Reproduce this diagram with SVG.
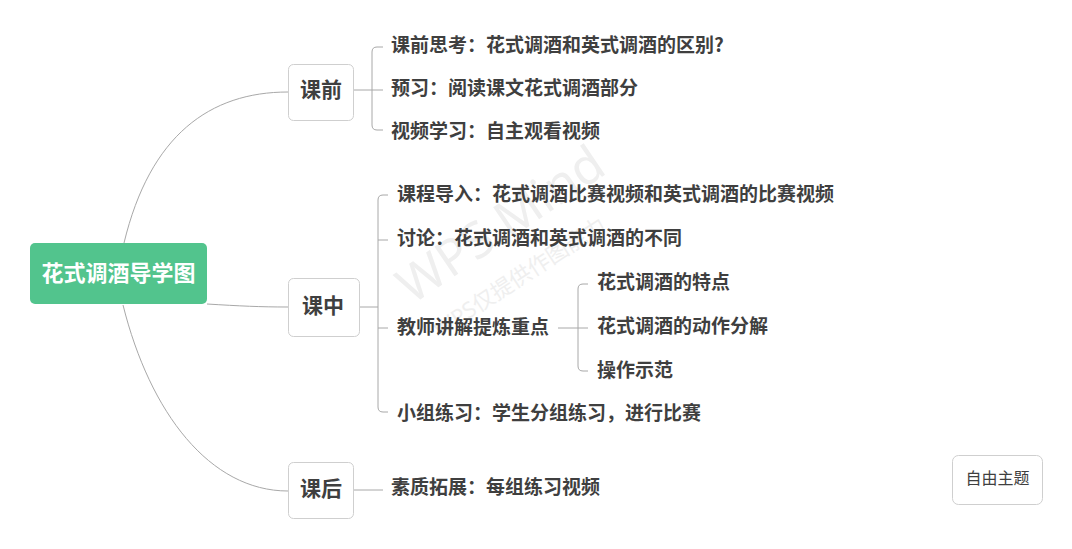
<svg xmlns="http://www.w3.org/2000/svg" width="1072" height="549" viewBox="0 0 1072 549">
<style>
.t{font-family:"Noto Sans CJK SC","Microsoft YaHei",sans-serif;fill:#3f3f3f;dominant-baseline:central}
.b{font-weight:bold;font-size:19px}
.main{font-weight:bold;font-size:21px;text-anchor:middle}
.box{fill:#fff;stroke:#cfcfcf;stroke-width:1}
.ln{fill:none;stroke:#a8a8a8;stroke-width:1}
.wm{font-family:"Noto Sans","Noto Sans CJK SC",sans-serif;fill:#efefef}
</style>
<rect width="1072" height="549" fill="#fff"/>
<g id="watermark">
<text class="wm" x="0" y="0" font-size="50" transform="translate(412,305) rotate(-34)">WPS Mind</text>
<text class="wm" x="0" y="0" font-size="22" transform="translate(440,338) rotate(-33)">WPS仅提供作图能力</text>
</g>
<g id="connectors">
<path class="ln" d="M124,243 C150,135 210,92 288,92"/>
<path class="ln" d="M207,304 C240,306 260,307 288,307"/>
<path class="ln" d="M123,305 C150,413 210,491 288,491"/>
<path class="ln" d="M354,90 H383"/>
<path class="ln" d="M383,47 H377 Q372,47 372,52 V125 Q372,130 377,130 H383"/>
<path class="ln" d="M360,307 H378"/>
<path class="ln" d="M388,195 H383 Q378,195 378,200 V407 Q378,412 383,412 H388"/>
<path class="ln" d="M378,240 H388"/>
<path class="ln" d="M378,328 H388"/>
<path class="ln" d="M558,328 H588"/>
<path class="ln" d="M588,284 H583 Q578,284 578,289 V366 Q578,371 583,371 H588"/>
<path class="ln" d="M354,490 H383"/>
</g>
<g id="root">
<rect x="30" y="243" width="177" height="61" rx="5" fill="#52c48d"/>
<text class="t" x="118.5" y="271" font-size="22" font-weight="bold" text-anchor="middle" style="fill:#fff">花式调酒导学图</text>
</g>
<g id="n-kq">
<rect class="box" x="288.5" y="64.5" width="65" height="56" rx="5"/>
<text class="t main" x="321" y="88">课前</text>
</g>
<g id="n-kz">
<rect class="box" x="288.5" y="278.5" width="71" height="58" rx="5"/>
<text class="t main" x="323" y="304">课中</text>
</g>
<g id="n-kh">
<rect class="box" x="288.5" y="462.5" width="65" height="56" rx="5"/>
<text class="t main" x="321" y="487">课后</text>
</g>
<g id="n-kq1"><text class="t b" x="391" y="43">课前思考：花式调酒和英式调酒的区别?</text></g>
<g id="n-kq2"><text class="t b" x="391" y="86">预习：阅读课文花式调酒部分</text></g>
<g id="n-kq3"><text class="t b" x="391" y="129">视频学习：自主观看视频</text></g>
<g id="n-kz1"><text class="t b" x="397" y="192">课程导入：花式调酒比赛视频和英式调酒的比赛视频</text></g>
<g id="n-kz2"><text class="t b" x="397" y="236">讨论：花式调酒和英式调酒的不同</text></g>
<g id="n-kz3"><text class="t b" x="397" y="325">教师讲解提炼重点</text></g>
<g id="n-kz3a"><text class="t b" x="597" y="280">花式调酒的特点</text></g>
<g id="n-kz3b"><text class="t b" x="597" y="324">花式调酒的动作分解</text></g>
<g id="n-kz3c"><text class="t b" x="597" y="368">操作示范</text></g>
<g id="n-kz4"><text class="t b" x="397" y="411">小组练习：学生分组练习，进行比赛</text></g>
<g id="n-kh1"><text class="t b" x="391" y="485">素质拓展：每组练习视频</text></g>
<g id="free">
<rect class="box" x="952.5" y="455.5" width="90" height="49" rx="6"/>
<text class="t" x="997.5" y="477" font-size="16" text-anchor="middle">自由主题</text>
</g>
</svg>
